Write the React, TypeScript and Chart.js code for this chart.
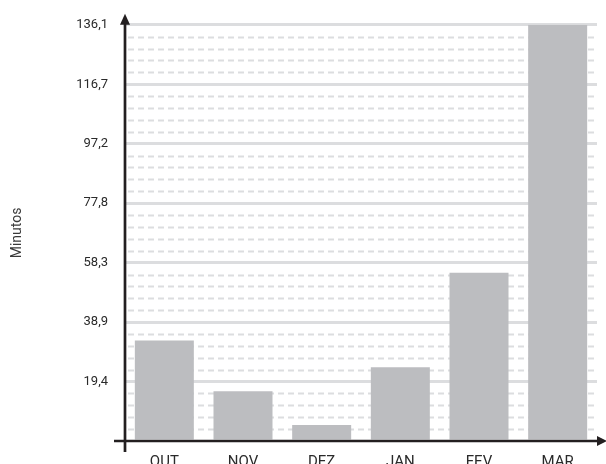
import React, { useEffect, useRef } from "react";
import { Chart, registerables } from "chart.js";

Chart.register(...registerables);

const categories = ["OUT", "NOV", "DEZ", "JAN", "FEV", "MAR"];
const minutes = [32.9, 16.3, 5.2, 24.1, 55.0, 136.1];
const yTickValues = [0, 19.443, 38.886, 58.329, 77.771, 97.214, 116.657, 136.1];
const yTickLabels = ["", "19,4", "38,9", "58,3", "77,8", "97,2", "116,7", "136,1"];
const yAxisTitle = "Minutos";

const W = 606;
const H = 480;
const AXIS_COLOR = "#231f20";
const FONT = "Roboto";

const axesPlugin = {
  id: "customAxes",
  beforeDatasetsDraw(chart: any) {
    const { ctx, chartArea, scales } = chart;
    const y = scales.y;
    ctx.save();
    ctx.strokeStyle = "#dcdddf";
    ctx.lineWidth = 2;
    ctx.setLineDash([6, 4]);
    for (let i = 0; i < yTickValues.length - 1; i++) {
      const a = yTickValues[i];
      const b = yTickValues[i + 1];
      for (let k = 1; k < 5; k++) {
        const v = a + ((b - a) * k) / 5;
        const py = Math.round(y.getPixelForValue(v)) + 0.5;
        ctx.beginPath();
        ctx.moveTo(chartArea.left + 3, py);
        ctx.lineTo(chartArea.right, py);
        ctx.stroke();
      }
    }
    ctx.restore();
  },
  afterDraw(chart: any) {
    const { ctx, chartArea } = chart;
    const { left, right, top, bottom } = chartArea;
    ctx.save();
    ctx.strokeStyle = AXIS_COLOR;
    ctx.fillStyle = AXIS_COLOR;
    ctx.lineWidth = 2.7;
    // y axis
    ctx.beginPath();
    ctx.moveTo(left, bottom + 11);
    ctx.lineTo(left, top - 1);
    ctx.stroke();
    ctx.beginPath();
    ctx.moveTo(left, top - 11);
    ctx.lineTo(left - 5, top);
    ctx.lineTo(left + 5, top);
    ctx.closePath();
    ctx.fill();
    // x axis
    ctx.beginPath();
    ctx.moveTo(left - 11, bottom);
    ctx.lineTo(right + 1, bottom);
    ctx.stroke();
    ctx.beginPath();
    ctx.moveTo(right + 10, bottom);
    ctx.lineTo(right, bottom - 5);
    ctx.lineTo(right, bottom + 5);
    ctx.closePath();
    ctx.fill();
    ctx.restore();
  },
};

export default function App() {
  const ref = useRef<HTMLCanvasElement | null>(null);
  useEffect(() => {
    if (!ref.current) return;
    const chart = new Chart(ref.current, {
      type: "bar",
      data: {
        labels: categories,
        datasets: [
          {
            data: minutes,
            backgroundColor: "#bcbdc0",
            borderWidth: 0,
            barPercentage: 0.75,
            categoryPercentage: 1,
          },
        ],
      },
      options: {
        animation: false,
        responsive: false,
        devicePixelRatio: 1,
        layout: { padding: { top: 23, right: 9, left: 0, bottom: 0 } },
        plugins: { legend: { display: false }, tooltip: { enabled: false } },
        scales: {
          x: {
            grid: { display: false, drawTicks: false },
            border: { display: false },
            ticks: {
              color: "#2a2a2a",
              font: { family: FONT, size: 15 },
              padding: 12,
              maxRotation: 0,
            },
            afterFit(scale: any) {
              scale.height = H - 441;
            },
          },
          y: {
            min: 0,
            max: 136.1,
            afterBuildTicks(scale: any) {
              scale.ticks = yTickValues.map((v) => ({ value: v }));
            },
            afterFit(scale: any) {
              scale.width = 125;
            },
            ticks: {
              color: "#2a2a2a",
              font: { family: FONT, size: 13 },
              padding: 17,
              callback: (_v: any, i: number) => yTickLabels[i],
            },
            grid: {
              color: (c: any) => (c.index === 0 ? "rgba(0,0,0,0)" : "#dcdddf"),
              lineWidth: 3,
              drawTicks: false,
            },
            border: { display: false },
            title: {
              display: true,
              text: yAxisTitle,
              color: "#3a3a3a",
              font: { family: FONT, size: 14 },
              padding: { top: 9, bottom: 0 },
            },
          },
        },
      },
      plugins: [axesPlugin],
    });
    return () => chart.destroy();
  }, []);
  return (
    <div style={{ position: "absolute", left: 0, top: 0, width: W, height: H }}>
      <canvas ref={ref} width={W} height={H} style={{ width: W, height: H, display: "block" }} />
    </div>
  );
}
